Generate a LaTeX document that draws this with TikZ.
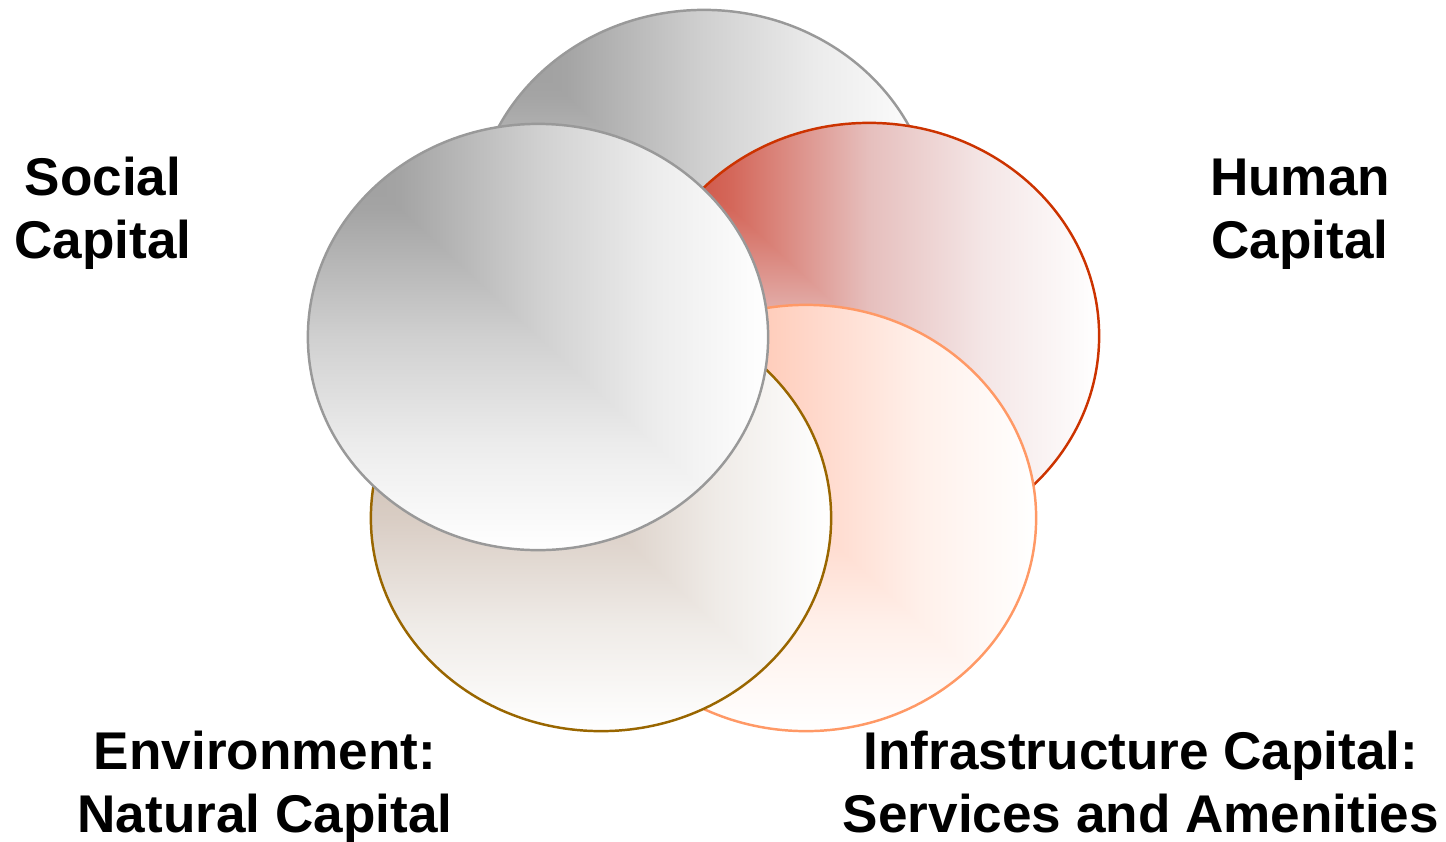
\documentclass[tikz,border=0pt]{standalone}
\usepackage{fontspec}
\setmainfont{Liberation Sans}
\usetikzlibrary{shapes.geometric}

% corner gradient: horizontal above the diagonal, vertical below it
\newcommand{\capshade}[6]{%
  \definecolor{#1a}{HTML}{#2}\definecolor{#1b}{HTML}{#3}\definecolor{#1c}{HTML}{#4}%
  \definecolor{#1d}{HTML}{#5}\definecolor{#1e}{HTML}{#6}%
  \pgfdeclarehorizontalshading{#1h}{100bp}{color(0bp)=(#1a); color(25bp)=(#1a);
    color(35bp)=(#1b); color(50bp)=(#1c); color(62.5bp)=(#1d); color(75bp)=(#1e); color(100bp)=(#1e)}%
  \pgfdeclareverticalshading{#1v}{100bp}{color(0bp)=(#1e); color(25bp)=(#1e);
    color(37.5bp)=(#1d); color(50bp)=(#1c); color(65bp)=(#1b); color(75bp)=(#1a); color(100bp)=(#1a)}}
\capshade{gray}{9A9A9A}{A4A4A4}{D0D0D0}{ECECEC}{FFFFFF}
\capshade{red}{C8402E}{D4675A}{E6BFBD}{F4E6E6}{FFFFFF}
\capshade{peach}{FFA888}{FFB89C}{FFD6C8}{FFF0EA}{FFFFFF}
\capshade{tan}{B9A797}{C6B6A8}{D9CDC4}{EFEBE7}{FFFFFF}
\definecolor{grayline}{HTML}{999999}
\definecolor{redline}{HTML}{CC3300}
\definecolor{peachline}{HTML}{FF9966}
\definecolor{tanline}{HTML}{996600}

\begin{document}
\begin{tikzpicture}[x=0.01cm,y=0.01cm,
  blob/.style 2 args={ellipse,draw=#2,line width=0.7pt,inner sep=0pt,
    minimum width=4.6cm,minimum height=4.26cm,
    path picture={
      \shade[shading=#1h] (path picture bounding box.south west) rectangle (path picture bounding box.north east);
      \clip (path picture bounding box.north west) -- (path picture bounding box.south west)
        -- (path picture bounding box.south east) -- cycle;
      \shade[shading=#1v] (path picture bounding box.south west) rectangle (path picture bounding box.north east);}},
  captext/.style={font=\fontsize{15.1pt}{17.9pt}\selectfont\bfseries,align=center,anchor=base,inner sep=0pt}]
\useasboundingbox (0,0) rectangle (1446,841);

% back to front
\node[blob={gray}{grayline}] (top) at (704,618) {};
\node[blob={red}{redline}] (human) at (869,505) {};
\node[blob={peach}{peachline}] (infra) at (806,323) {};
\node[blob={tan}{tanline}] (env) at (601,323) {};
\node[blob={gray}{grayline}] (social) at (538,504) {};

% labels, anchored on the last line
\node[captext] (socialtxt) at (103,583) {Social\\Capital};
\node[captext] (humantxt) at (1300,583) {Human\\Capital};
\node[captext] (envtxt) at (265,9) {Environment:\\Natural Capital};
\node[captext] (infratxt) at (1141,9) {Infrastructure Capital:\\Services and Amenities};
\end{tikzpicture}
\end{document}
